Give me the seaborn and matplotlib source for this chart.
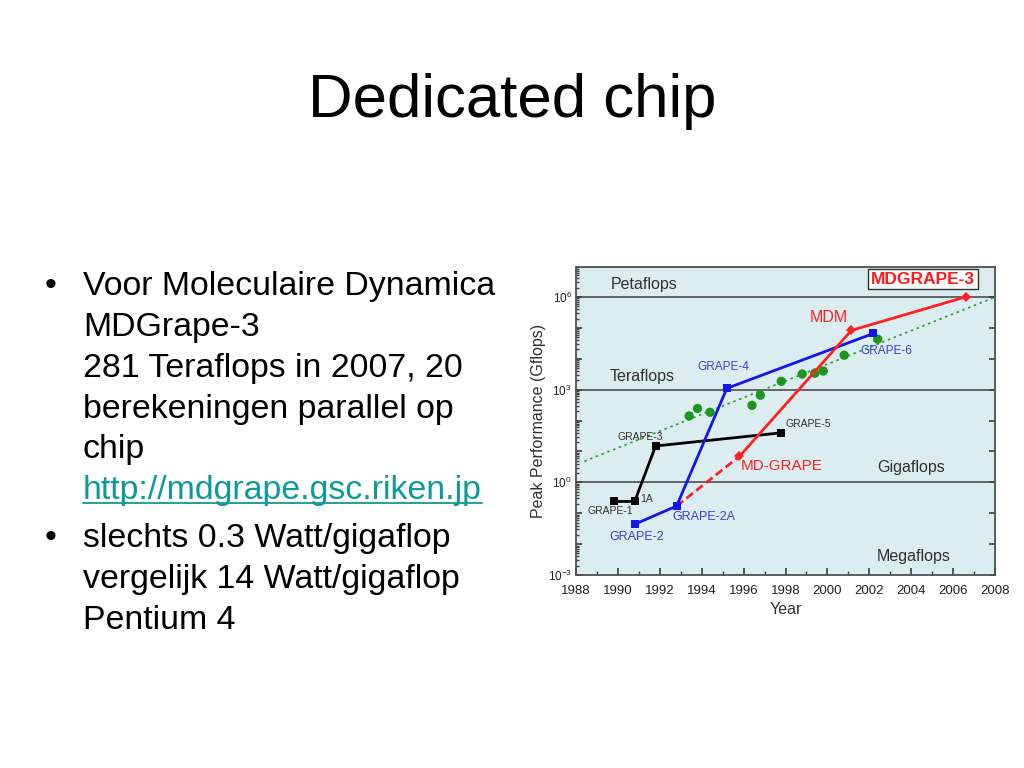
import math
import seaborn as sns
import matplotlib.pyplot as plt
import matplotlib.ticker as mticker
from matplotlib.lines import Line2D
import pandas as pd

# --- data ---
grape_black_years = [1989.8, 1990.8, 1991.8, 1997.8]   # GRAPE-1, 1A, GRAPE-3, GRAPE-5
grape_black_perf = [0.24, 0.24, 15, 40]

grape_blue_years = [1990.8, 1992.8, 1995.2, 2002.2]    # GRAPE-2, 2A, 4, 6
grape_blue_perf = [0.044, 0.17, 1100, 66000]

mdgrape_dash_years = [1992.8, 1995.8]                  # GRAPE-2A -> MD-GRAPE
mdgrape_dash_perf = [0.17, 6.9]
mdgrape_years = [1995.8, 2001.15, 2006.6]              # MD-GRAPE, MDM, MDGRAPE-3
mdgrape_perf = [6.9, 83000, 1000000]

general_years = [1993.4, 1993.8, 1994.4, 1996.4, 1996.8, 1997.8,
                 1998.8, 1999.4, 1999.8, 2000.8, 2002.4]
general_perf = [140, 245, 185, 310, 660, 1860, 3200, 3400, 4000, 13000, 43000]

trend_years = [1988.4, 2008.0]
trend_perf = [4.8, 980000]

flops_levels = [1, 1000, 1000000]

bullet_lines = ["Voor Moleculaire Dynamica", "MDGrape-3",
                "281 Teraflops in 2007, 20", "berekeningen parallel op",
                "chip"]
link_text = "http://mdgrape.gsc.riken.jp"
bullet2_lines = ["slechts 0.3 Watt/gigaflop", "vergelijk 14 Watt/gigaflop",
                 "Pentium 4"]

sns.set_theme(style="ticks")
plt.rcParams['font.family'] = ['Liberation Sans', 'DejaVu Sans']
plt.rcParams['mathtext.default'] = 'regular'
plt.rcParams['text.color'] = 'black'

W, H = 1024, 768
fig = plt.figure(figsize=(W / 100, H / 100), dpi=100)
fig.patch.set_facecolor("white")

def fy(py):
    return 1 - py / H

# slide title and bullets
fig.text(512 / W, fy(117), "Dedicated chip", ha="center", va="baseline", fontsize=44.5)

body = 24.4
ys = [295, 336, 377, 418, 458]
fig.text(45 / W, fy(295), "\u2022", fontsize=body, va="baseline")
for s, y in zip(bullet_lines, ys):
    fig.text(83 / W, fy(y), s, fontsize=body, va="baseline")
link = fig.text(83 / W, fy(499), link_text, fontsize=body, va="baseline", color="#0e9a9a")
fig.text(45 / W, fy(547), "\u2022", fontsize=body, va="baseline")
for s, y in zip(bullet2_lines, [547, 588, 629]):
    fig.text(83 / W, fy(y), s, fontsize=body, va="baseline")

# chart
ax = fig.add_axes([576 / W, 1 - 575 / H, 419 / W, 308 / H])
ax.set_facecolor("#dcedf1")

for lv in flops_levels:
    ax.axhline(lv, color="#404040", lw=1.1, zorder=1)

trend = pd.DataFrame({"year": trend_years, "perf": trend_perf})
sns.lineplot(data=trend, x="year", y="perf", ax=ax, color="#2a9a2a", lw=1.2,
             linestyle=(0, (1.5, 2.2)), zorder=2)

gen = pd.DataFrame({"year": general_years, "perf": general_perf})
sns.scatterplot(data=gen, x="year", y="perf", ax=ax, color="#1e961e", s=45,
                edgecolor="none", zorder=3)

black = pd.DataFrame({"year": grape_black_years, "perf": grape_black_perf})
sns.lineplot(data=black, x="year", y="perf", ax=ax, color="black", lw=2,
             marker="s", markersize=5.5, markeredgewidth=0, zorder=4)

blue = pd.DataFrame({"year": grape_blue_years, "perf": grape_blue_perf})
sns.lineplot(data=blue, x="year", y="perf", ax=ax, color="#1414f0", lw=2,
             marker="s", markersize=6, markeredgewidth=0, zorder=5)

dash = pd.DataFrame({"year": mdgrape_dash_years, "perf": mdgrape_dash_perf})
sns.lineplot(data=dash, x="year", y="perf", ax=ax, color="#ff2020", lw=2,
             linestyle=(0, (3, 1.5)), zorder=4)
red = pd.DataFrame({"year": mdgrape_years, "perf": mdgrape_perf})
sns.lineplot(data=red, x="year", y="perf", ax=ax, color="#ff2020", lw=2,
             marker="D", markersize=5, markeredgewidth=0, zorder=6)

ax.set_yscale("log")
ax.set_xlim(1988, 2008)
ax.set_ylim(1e-3, 9.3e6)

ax.xaxis.set_major_locator(mticker.MultipleLocator(2))
ax.xaxis.set_minor_locator(mticker.MultipleLocator(1))
ax.yaxis.set_major_locator(mticker.LogLocator(base=10, numticks=20))
ax.yaxis.set_minor_locator(mticker.LogLocator(base=10, subs=range(2, 10), numticks=20))

def ylab(v, pos):
    e = int(round(math.log10(v)))
    return r"$10^{%d}$" % e if e % 3 == 0 else ""
ax.yaxis.set_major_formatter(mticker.FuncFormatter(ylab))

ax.tick_params(axis="both", which="both", direction="in", colors="#404040",
               labelcolor="#202020", top=False)
ax.tick_params(axis="y", which="major", right=True)
ax.tick_params(axis="y", which="minor", right=False)
ax.tick_params(axis="x", which="major", length=5, labelsize=9.5, pad=7)
ax.tick_params(axis="x", which="minor", length=3)
ax.tick_params(axis="y", which="major", length=4, labelsize=8.5, pad=3)
ax.tick_params(axis="y", which="minor", length=2)
for sp in ax.spines.values():
    sp.set_color("#505050")
    sp.set_linewidth(1.3)

ax.set_xlabel("Year", fontsize=11.5, color="#303030", labelpad=4)
ax.set_ylabel("Peak Performance (Gflops)", fontsize=11.5, color="#303030", labelpad=1)

def lab(x, ly, s, color="#303030", size=8, **kw):
    ax.text(x, 10 ** ly, s, color=color, fontsize=size, va="center", **kw)

lab(1989.67, 6.41, "Petaflops", size=11.5)
lab(1989.6, 3.43, "Teraflops", size=11.5)
lab(2002.37, 0.49, "Gigaflops", size=11.5)
lab(2002.37, -2.39, "Megaflops", size=11.5)
ax.text(2004.56, 10 ** 6.57, "MDGRAPE-3", color="#ff1a1a", fontsize=12.5,
        fontweight="bold", ha="center", va="center",
        bbox=dict(boxstyle="square,pad=0.15", fc="white", ec="#303030", lw=1))
lab(2000.08, 5.34, "MDM", color="#ff2020", size=11.5, ha="center")
lab(2001.56, 4.24, "GRAPE-6", color="#3c3cd8", size=8.5)
lab(1993.78, 3.72, "GRAPE-4", color="#3c3cd8", size=8.5)
lab(1997.98, 1.88, "GRAPE-5", size=7.5)
lab(1989.96, 1.46, "GRAPE-3", size=7.5)
lab(1995.88, 0.52, "MD-GRAPE", color="#ff2020", size=11)
lab(1991.05, -0.55, "1A", size=7.5)
lab(1988.53, -0.94, "GRAPE-1", size=7.5)
lab(1992.58, -1.13, "GRAPE-2A", color="#3c3cd8", size=9)
lab(1989.58, -1.78, "GRAPE-2", color="#3c3cd8", size=9)

# underline for the link
fig.canvas.draw()
bb = link.get_window_extent()
uy = fy(503)
fig.add_artist(Line2D([bb.x0 / W, bb.x1 / W], [uy, uy], color="#0e9a9a", lw=1.3))

fig.savefig("out.png", dpi=100)
